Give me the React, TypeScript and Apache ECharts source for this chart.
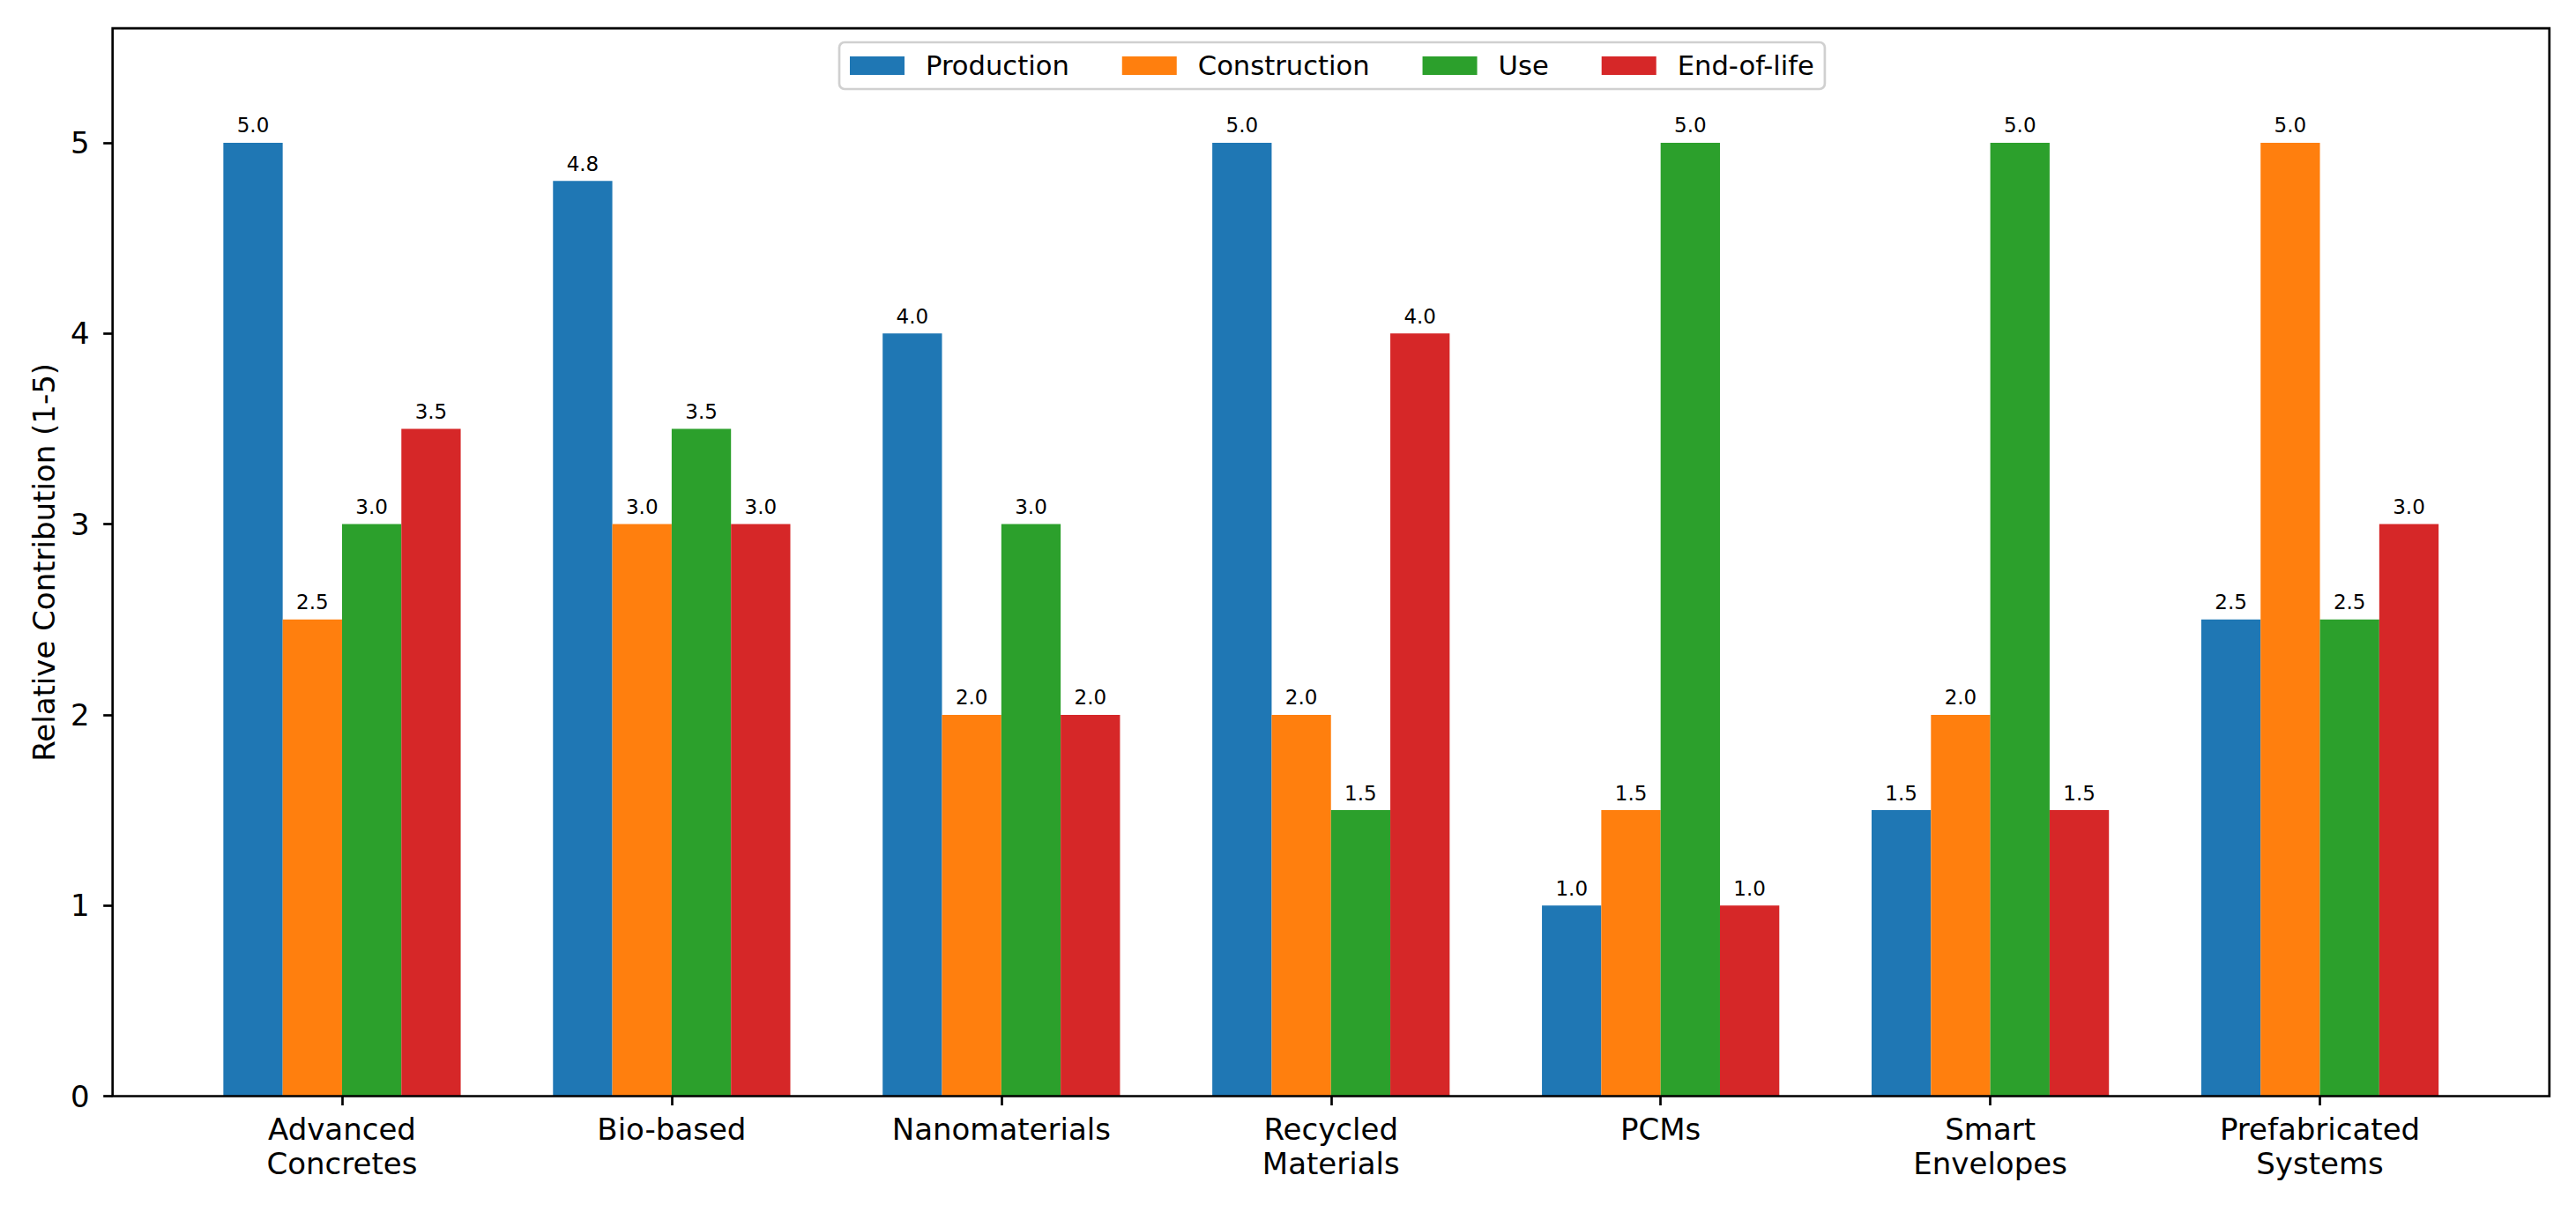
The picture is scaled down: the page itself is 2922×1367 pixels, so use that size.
import React, { useEffect, useRef } from "react";
import * as echarts from "echarts";

const categories = [
  "Advanced\nConcretes",
  "Bio-based",
  "Nanomaterials",
  "Recycled\nMaterials",
  "PCMs",
  "Smart\nEnvelopes",
  "Prefabricated\nSystems",
];
const seriesNames = ["Production", "Construction", "Use", "End-of-life"];
const production = [5.0, 4.8, 4.0, 5.0, 1.0, 1.5, 2.5];
const construction = [2.5, 3.0, 2.0, 2.0, 1.5, 2.0, 5.0];
const use = [3.0, 3.5, 3.0, 1.5, 5.0, 5.0, 2.5];
const endOfLife = [3.5, 3.0, 2.0, 4.0, 1.0, 1.5, 3.0];
const yTicks = [0, 1, 2, 3, 4, 5];
const colors = ["#1f77b4", "#ff7f0e", "#2ca02c", "#d62728"];

const FONT = "DejaVu Sans";

export default function App() {
  const ref = useRef<HTMLDivElement>(null);
  useEffect(() => {
    if (!ref.current) return;
    const chart = echarts.init(ref.current, undefined, { renderer: "svg" });
    const values = [production, construction, use, endOfLife];
    const option: any = {
      animation: false,
      backgroundColor: "#ffffff",
      textStyle: { fontFamily: FONT },
      grid: [
        {
          left: 127.7,
          right: 30.2,
          top: 32.2,
          bottom: 123.5,
          show: true,
          borderColor: "#000000",
          borderWidth: 2.7,
          backgroundColor: "transparent",
          z: 10,
        },
        {
          left: 201,
          right: 103.5,
          top: 32.2,
          bottom: 123.5,
        },
      ],
      xAxis: [
        { type: "value", gridIndex: 0, min: 0, max: 1, show: false },
        {
          type: "category",
          gridIndex: 1,
          data: categories,
          axisLine: { show: false },
          axisTick: {
            show: true,
            alignWithLabel: true,
            length: 10.5,
            lineStyle: { color: "#000000", width: 2.7 },
          },
          axisLabel: {
            interval: 0,
            margin: 18,
            fontSize: 34,
            lineHeight: 39,
            color: "#000000",
            fontFamily: FONT,
          },
        },
      ],
      yAxis: [
        {
          type: "value",
          gridIndex: 0,
          min: 0,
          max: 5.6,
          interval: 1,
          axisLine: { show: false },
          splitLine: { show: false },
          axisTick: {
            show: true,
            length: 10.5,
            customValues: yTicks,
            lineStyle: { color: "#000000", width: 2.7 },
          },
          axisLabel: {
            customValues: yTicks,
            margin: 26,
            fontSize: 34,
            color: "#000000",
            fontFamily: FONT,
          },
          name: "Relative Contribution (1-5)",
          nameLocation: "middle",
          nameGap: 61,
          nameTextStyle: { fontSize: 34, color: "#000000", fontFamily: FONT },
        },
        {
          type: "value",
          gridIndex: 1,
          min: 0,
          max: 5.6,
          show: false,
          splitLine: { show: false },
        },
      ],
      legend: {
        data: seriesNames,
        left: 952,
        top: 48,
        orient: "horizontal",
        icon: "rect",
        itemWidth: 62,
        itemHeight: 21,
        itemGap: 60,
        padding: [11, 12, 11, 12],
        borderColor: "#d0d0d0",
        borderWidth: 2.7,
        borderRadius: 6,
        backgroundColor: "rgba(255,255,255,0.8)",
        textStyle: {
          fontSize: 30.6,
          color: "#000000",
          fontFamily: FONT,
          padding: [0, 0, 0, 19],
        },
      },
      series: seriesNames.map((name, i) => ({
        type: "bar",
        name,
        xAxisIndex: 1,
        yAxisIndex: 1,
        data: values[i],
        barWidth: "18%",
        barGap: "0%",
        itemStyle: { color: colors[i] },
        label: {
          show: true,
          position: "top",
          distance: 8,
          fontSize: 23,
          color: "#000000",
          fontFamily: FONT,
          formatter: (p: any) => Number(p.value).toFixed(1),
        },
      })),
    };
    chart.setOption(option);
    return () => chart.dispose();
  }, []);
  return (
    <div
      ref={ref}
      style={{ position: "absolute", left: 0, top: 0, width: 2922, height: 1367 }}
    />
  );
}
